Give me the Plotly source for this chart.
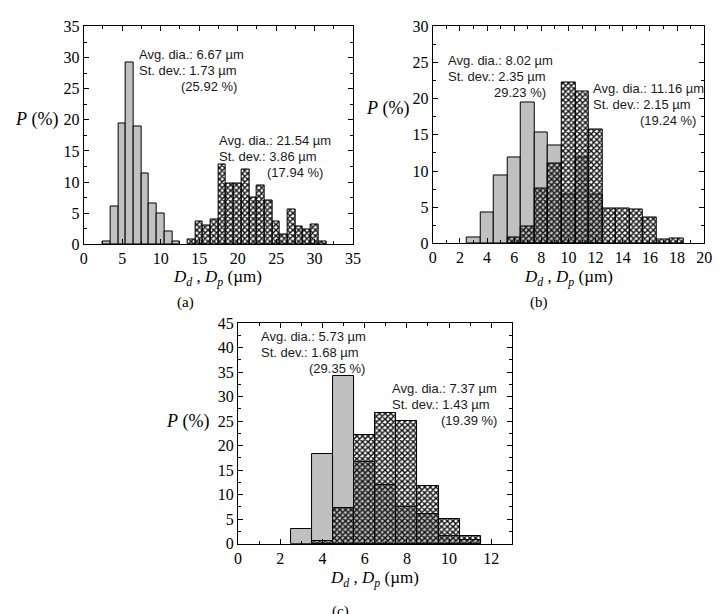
import plotly.graph_objects as go

W, H = 723, 614

# ---------------- data (bin centres in µm, percentages) ----------------
a_drop_x = [3, 4, 5, 6, 7, 8, 9, 10, 11, 12]
a_drop_y = [0.5, 6.1, 19.4, 29.2, 18.9, 11.3, 6.6, 5.0, 2.1, 0.5]
a_part_x = [14, 15, 16, 17, 18, 19, 20, 21, 22, 23, 24, 25, 26, 27, 28, 29, 30, 31]
a_part_y = [0.8, 3.7, 3.0, 4.0, 12.8, 9.8, 9.8, 12.0, 7.5, 9.4, 7.0, 3.7, 1.6, 5.6, 2.9, 2.4, 3.2, 0.5]

b_drop_x = [3, 4, 5, 6, 7, 8, 9, 10, 11, 12]
b_drop_y = [0.85, 4.3, 9.4, 11.9, 19.5, 15.3, 13.6, 6.8, 11.9, 6.8]
b_part_x = [6, 7, 8, 9, 10, 11, 12, 13, 14, 15, 16, 17, 18]
b_part_y = [0.85, 2.3, 7.6, 11.0, 22.2, 21.0, 15.7, 4.8, 4.8, 4.7, 3.6, 0.55, 0.7]

c_drop_x = [3, 4, 5, 6, 7, 8, 9, 10, 11]
c_drop_y = [3.0, 18.2, 34.2, 16.7, 12.0, 7.5, 6.1, 1.6, 0.8]
c_part_x = [4, 5, 6, 7, 8, 9, 10, 11]
c_part_y = [0.5, 7.3, 22.2, 26.6, 25.0, 11.8, 5.0, 1.6]

a_text1 = ["Avg. dia.: 6.67 µm", "St. dev.: 1.73 µm", "(25.92 %)"]
a_text2 = ["Avg. dia.: 21.54 µm", "St. dev.: 3.86 µm", "(17.94 %)"]
b_text1 = ["Avg. dia.: 8.02 µm", "St. dev.: 2.35 µm", "29.23 %)"]
b_text2 = ["Avg. dia.: 11.16 µm", "St. dev.: 2.15 µm", "(19.24 %)"]
c_text1 = ["Avg. dia.: 5.73 µm", "St. dev.: 1.68 µm", "(29.35 %)"]
c_text2 = ["Avg. dia.: 7.37 µm", "St. dev.: 1.43 µm", "(19.39 %)"]

captions = ["(a)", "(b)", "(c)"]
x_title = "<i>D</i><sub><i>d</i></sub> , <i>D</i><sub><i>p</i></sub> (µm)"
y_title = "<i>P</i> (%)"

# ---------------- helpers ----------------
def fx(p):
    return p / W

def fy(p):
    return 1 - p / H

SERIF = "Liberation Serif"
SANS = "Liberation Sans"

gray_marker = dict(color="#c0c0c0", line=dict(color="black", width=1))
hatch_marker = dict(
    color="rgba(0,0,0,0)",
    line=dict(color="black", width=1),
    pattern=dict(shape="x", fgcolor="#111111", bgcolor="rgba(0,0,0,0)",
                 size=4, solidity=0.6, fillmode="replace"),
)

fig = go.Figure()
panels = [
    ("x", "y", a_drop_x, a_drop_y, a_part_x, a_part_y),
    ("x2", "y2", b_drop_x, b_drop_y, b_part_x, b_part_y),
    ("x3", "y3", c_drop_x, c_drop_y, c_part_x, c_part_y),
]
for xa, ya, gx, gy, hx, hy in panels:
    fig.add_trace(go.Bar(x=gx, y=gy, width=1, marker=gray_marker,
                         xaxis=xa, yaxis=ya, showlegend=False))
    fig.add_trace(go.Bar(x=hx, y=hy, width=1, marker=hatch_marker,
                         xaxis=xa, yaxis=ya, showlegend=False))

def axis(domain, rng, dtick, mdtick, anchor):
    return dict(
        domain=domain, range=rng, dtick=dtick, tick0=0, anchor=anchor,
        showline=True, linecolor="black", linewidth=1, mirror="allticks",
        ticks="inside", ticklen=5, tickwidth=1, tickcolor="black",
        showgrid=False, zeroline=False,
        tickfont=dict(family=SERIF, size=16, color="black"),
        minor=dict(ticks="inside", ticklen=3, tickwidth=1, tickcolor="black",
                   dtick=mdtick, tick0=0, showgrid=False),
    )

layout = dict(
    width=W, height=H,
    margin=dict(l=0, r=0, t=0, b=0),
    paper_bgcolor="white", plot_bgcolor="white",
    barmode="overlay", bargap=0,
    xaxis=axis([fx(81), fx(355)], [0, 35], 5, 2.5, "y"),
    yaxis=axis([fy(243), fy(19)], [0, 35], 5, 2.5, "x"),
    xaxis2=axis([fx(436), fx(712)], [0, 20], 2, 1, "y2"),
    yaxis2=axis([fy(242), fy(19)], [0, 30], 5, 2.5, "x2"),
    xaxis3=axis([fx(238), fx(517)], [0, 13], 2, 1, "y3"),
    yaxis3=axis([fy(551), fy(324)], [0, 45], 5, 2.5, "x3"),
)
fig.update_layout(**layout)

ann = []

def add_block(lines, left, y0, right):
    ys = [y0, y0 + 16.5, y0 + 33]
    ann.append(dict(text=lines[0], x=fx(left), y=fy(ys[0]), xanchor="left"))
    ann.append(dict(text=lines[1], x=fx(left), y=fy(ys[1]), xanchor="left"))
    ann.append(dict(text=lines[2], x=fx(right), y=fy(ys[2]), xanchor="right"))

add_block(a_text1, 135, 48, 239)
add_block(a_text2, 217, 136, 326)
add_block(b_text1, 449, 54, 553)
add_block(b_text2, 597, 83, 706)
add_block(c_text1, 259, 338, 369)
add_block(c_text2, 393, 391, 503)
for a in ann:
    a.update(xref="paper", yref="paper", yanchor="middle", showarrow=False,
             font=dict(family=SANS, size=13, color="#1a1a1a"))

extra = []
# y titles
for xr, yc in [(57, 115), (414, 103), (211, 425)]:
    extra.append(dict(text=y_title, x=fx(xr), y=fy(yc), xanchor="right",
                      font=dict(family=SERIF, size=18, color="black")))
# x titles
for xc, yc in [(217, 278), (574, 278), (377, 587)]:
    extra.append(dict(text=x_title, x=fx(xc), y=fy(yc), xanchor="center",
                      font=dict(family=SERIF, size=17, color="black")))
# captions
for cap, xc, yc in zip(captions, [185, 544, 342], [303, 303, 621]):
    extra.append(dict(text=cap, x=fx(xc), y=fy(yc), xanchor="center",
                      font=dict(family=SERIF, size=15, color="black")))
for a in extra:
    a.update(xref="paper", yref="paper", yanchor="middle", showarrow=False)

fig.update_layout(annotations=ann + extra)
fig.write_html("out.html")
